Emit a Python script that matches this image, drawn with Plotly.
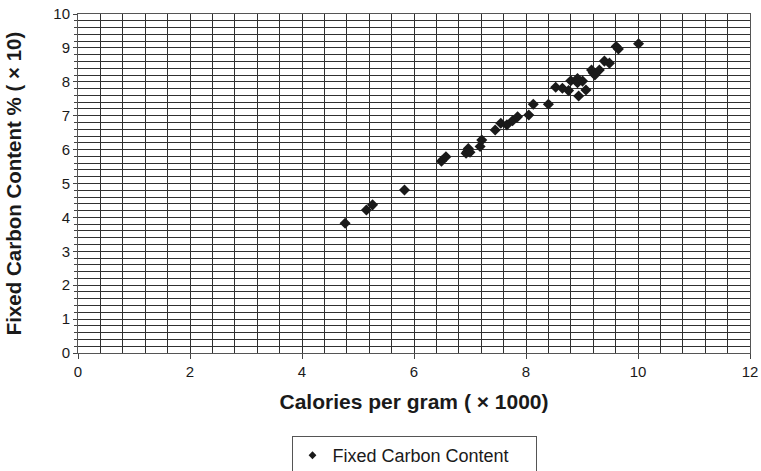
import plotly.graph_objects as go

calories = [4.77, 5.15, 5.26, 5.83, 6.49, 6.57, 6.93, 6.95, 6.97, 7.00, 7.18, 7.21,
            7.45, 7.55, 7.66, 7.76, 7.85, 8.05, 8.13, 8.40, 8.53, 8.65, 8.76, 8.80,
            8.92, 8.92, 8.94, 9.01, 9.07, 9.17, 9.20, 9.23, 9.31, 9.40, 9.49, 9.61,
            9.65, 10.01]
carbon = [3.83, 4.22, 4.37, 4.81, 5.66, 5.79, 5.89, 5.94, 6.03, 5.92, 6.09, 6.28,
          6.58, 6.78, 6.73, 6.85, 6.97, 7.02, 7.34, 7.34, 7.84, 7.81, 7.74, 8.03,
          8.10, 7.97, 7.58, 8.02, 7.76, 8.35, 8.27, 8.20, 8.35, 8.61, 8.55, 9.04,
          8.97, 9.12]

series_name = "Fixed Carbon Content"
x_title = "Calories per gram ( \u00d7 1000)"
y_title = "Fixed Carbon Content % ( \u00d7 10)"

fig = go.Figure()
fig.add_trace(go.Scatter(
    x=calories, y=carbon, mode="markers", name=series_name, showlegend=False,
    marker=dict(symbol="diamond", size=8.5, color="#1a1a1a", line=dict(width=0)),
))
# legend entry with a smaller symbol, as in the reference
fig.add_trace(go.Scatter(
    x=[None], y=[None], mode="markers", name=series_name, showlegend=True,
    marker=dict(symbol="diamond", size=6, color="#1a1a1a", line=dict(width=0)),
))

font = "Liberation Sans, Arial, sans-serif"
grid_col = "#303030"
txt = "#1a1a1a"

fig.update_layout(
    width=761, height=471,
    margin=dict(l=78, r=11, t=14, b=118, autoexpand=False),
    paper_bgcolor="white", plot_bgcolor="white",
    font=dict(family=font, size=15, color=txt),
    showlegend=True,
    legend=dict(
        orientation="h", x=0.5, xanchor="center", y=-0.245, yanchor="top",
        bordercolor="#555", borderwidth=1, bgcolor="white",
        font=dict(size=18, color=txt), entrywidth=198,
        tracegroupgap=0, itemwidth=30,
    ),
    xaxis=dict(
        range=[0, 12], dtick=2, tick0=0, showgrid=True, gridcolor=grid_col, gridwidth=1,
        minor=dict(dtick=0.4, showgrid=True, gridcolor=grid_col, gridwidth=1),
        ticks="outside", ticklen=5, tickcolor="#444",
        showline=True, linecolor="#555", mirror=True, zeroline=False,
        tickfont=dict(size=15, color=txt),
        title=dict(text="<b>" + x_title + "</b>", font=dict(size=21, color=txt), standoff=15),
    ),
    yaxis=dict(
        range=[0, 10], dtick=1, tick0=0, showgrid=True, gridcolor=grid_col, gridwidth=1,
        minor=dict(dtick=0.2, showgrid=True, gridcolor=grid_col, gridwidth=1,
                   ticks="outside", ticklen=3, tickcolor="#444"),
        ticks="outside", ticklen=4, tickcolor="#444",
        showline=True, linecolor="#555", mirror=True, zeroline=False,
        tickfont=dict(size=15, color=txt),
        title=dict(text="<b>" + y_title + "</b>", font=dict(size=20.5, color=txt), standoff=26),
    ),
)

fig.write_html("out.html")
